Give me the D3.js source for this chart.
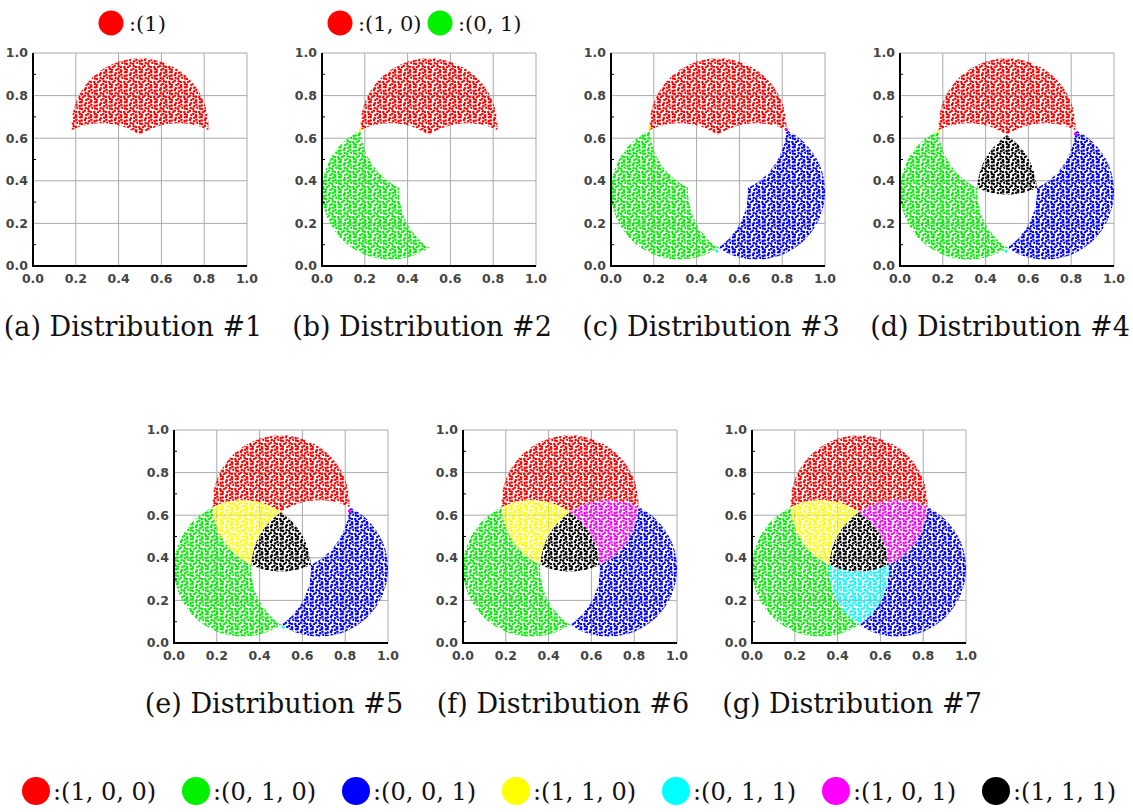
<!DOCTYPE html>
<html lang="en">
<head>
<meta charset="UTF-8">
<title>Distributions #1 - #7</title>
<script src="https://cdn.jsdelivr.net/npm/d3@7"></script>
<style>
  body { margin: 0; background: #fff; }
  .tick-label { font-family: "DejaVu Sans", sans-serif; font-weight: bold; font-size: 12.5px; fill: #444; }
  .caption { font-family: "DejaVu Serif", serif; font-size: 27px; fill: #111; }
  .legend-text { font-family: "DejaVu Serif", serif; fill: #111; }
</style>
</head>
<body>
<svg id="chart" width="1133" height="812"></svg>
<script>
// the three circles whose overlaps make the label regions
const circleCx = [0.5, 0.32, 0.68];
const circleCy = [0.655, 0.35, 0.35];
const circleR = [0.32, 0.32, 0.32];

// labels (membership of circle 1, 2, 3) and their colours
const labelCodes = ["100", "010", "001", "110", "011", "101", "111"];
const labelTexts = [":(1, 0, 0)", ":(0, 1, 0)", ":(0, 0, 1)", ":(1, 1, 0)", ":(0, 1, 1)", ":(1, 0, 1)", ":(1, 1, 1)"];
const labelColors = ["#ff0000", "#00f000", "#0000ff", "#ffff00", "#00ffff", "#ff00ff", "#000000"];

// which labels are present in each distribution
const panelLabels = [
  ["100"],
  ["100", "010"],
  ["100", "010", "001"],
  ["100", "010", "001", "111"],
  ["100", "010", "001", "111", "110"],
  ["100", "010", "001", "111", "110", "101"],
  ["100", "010", "001", "111", "110", "101", "011"]
];
const captions = ["(a) Distribution #1", "(b) Distribution #2", "(c) Distribution #3", "(d) Distribution #4",
                  "(e) Distribution #5", "(f) Distribution #6", "(g) Distribution #7"];

// small legends above panels (a) and (b)
const legendA = [["100", ":(1)"]];
const legendB = [["100", ":(1, 0)"], ["010", ":(0, 1)"]];

// stray points at the region corners
const strayPanel = [1, 2, 2, 2, 3, 3, 3, 4, 4];
const strayCode  = ["110", "110", "101", "011", "110", "101", "011", "101", "011"];
const strayX     = [0.18, 0.18, 0.82, 0.495, 0.18, 0.82, 0.495, 0.82, 0.51];
const strayY     = [0.64, 0.65, 0.64, 0.07, 0.63, 0.62, 0.07, 0.62, 0.075];

const ticks = [0, 0.2, 0.4, 0.6, 0.8, 1.0];
const minorTicks = [0.1, 0.3, 0.5, 0.7, 0.9];

// layout
const panelX = [33, 322, 611, 900, 174, 463, 752];
const panelY = [53, 53, 53, 53, 430, 430, 430];
const W = 214, H = 213;

const svg = d3.select("#chart");
const defs = svg.append("defs");
const x = d3.scaleLinear().domain([0, 1]).range([0, W]);
const y = d3.scaleLinear().domain([0, 1]).range([H, 0]);
const colorOf = d3.scaleOrdinal().domain(labelCodes).range(labelColors);

// stipple texture so the regions read like dense scatter (5x5 cells, hand jittered)
const tile = 15;
const jitter = [[0.4,-0.6],[-0.7,0.3],[0.8,0.5],[-0.2,-0.8],[-0.5,0.7],
                [0.6,-0.3],[-0.8,-0.5],[0.3,0.8],[0.7,0.2],[-0.3,-0.7],
                [0.1,0.6],[-0.8,-0.1],[-0.5,-0.4],[0.7,0.8],[-0.1,-0.8],
                [0.5,0.1],[-0.6,0.6],[0.2,-0.5],[-0.4,0.2],[0.8,-0.7],
                [-0.2,0.4],[0.6,0.7],[-0.7,-0.8],[0.3,-0.2],[-0.5,0.5]];
labelCodes.forEach(code => {
  const p = defs.append("pattern").attr("id", "pat-" + code)
    .attr("patternUnits", "userSpaceOnUse").attr("width", tile).attr("height", tile);
  jitter.forEach((j, k) => {
    p.append("circle")
      .attr("cx", 1.5 + 3 * (k % 5) + j[0])
      .attr("cy", 1.5 + 3 * Math.floor(k / 5) + j[1])
      .attr("r", 1.25)
      .attr("fill", colorOf(code));
  });
});

// clip paths for each circle, masks to cut out the others
circleCx.forEach((cx, i) => {
  defs.append("clipPath").attr("id", "clip-" + i)
    .append("ellipse")
    .attr("cx", x(cx)).attr("cy", y(circleCy[i]))
    .attr("rx", x(circleR[i]) - x(0)).attr("ry", y(0) - y(circleR[i]));
});
const masks = {};
function maskFor(excl) {
  if (!excl.length) return null;
  const id = "mask-" + excl.join("");
  if (!masks[id]) {
    const m = defs.append("mask").attr("id", id)
      .attr("maskUnits", "userSpaceOnUse").attr("x", -10).attr("y", -10)
      .attr("width", W + 20).attr("height", H + 20);
    m.append("rect").attr("x", -10).attr("y", -10).attr("width", W + 20).attr("height", H + 20).attr("fill", "#fff");
    excl.forEach(i => {
      m.append("ellipse")
        .attr("cx", x(circleCx[i])).attr("cy", y(circleCy[i]))
        .attr("rx", x(circleR[i]) - x(0)).attr("ry", y(0) - y(circleR[i]))
        .attr("fill", "#000");
    });
    masks[id] = true;
  }
  return "url(#" + id + ")";
}

function drawRegion(g, code) {
  let host = g;
  const excl = [];
  code.split("").forEach((bit, i) => {
    if (bit === "1") host = host.append("g").attr("clip-path", "url(#clip-" + i + ")");
    else excl.push(i);
  });
  host.append("rect")
    .attr("x", 0).attr("y", 0).attr("width", W).attr("height", H)
    .attr("fill", "url(#pat-" + code + ")")
    .attr("mask", maskFor(excl));
}

panelLabels.forEach((labels, p) => {
  const g = svg.append("g").attr("transform", `translate(${panelX[p]},${panelY[p]})`);

  // grid
  g.selectAll(".gx").data(ticks.slice(1)).join("line")
    .attr("x1", d => x(d)).attr("x2", d => x(d)).attr("y1", 0).attr("y2", H)
    .attr("stroke", "#aaa").attr("stroke-width", 1);
  g.selectAll(".gy").data(ticks.slice(1)).join("line")
    .attr("y1", d => y(d)).attr("y2", d => y(d)).attr("x1", 0).attr("x2", W)
    .attr("stroke", "#aaa").attr("stroke-width", 1);

  labels.forEach(code => drawRegion(g, code));

  // stray corner points
  strayPanel.forEach((sp, k) => {
    if (sp !== p) return;
    g.append("circle").attr("cx", x(strayX[k])).attr("cy", y(strayY[k])).attr("r", 1.6)
      .attr("fill", colorOf(strayCode[k]));
  });

  // axes
  g.append("line").attr("x1", 0).attr("x2", 0).attr("y1", 0).attr("y2", H + 1)
    .attr("stroke", "#000").attr("stroke-width", 2);
  g.append("line").attr("x1", -1).attr("x2", W).attr("y1", H).attr("y2", H)
    .attr("stroke", "#000").attr("stroke-width", 2);
  g.selectAll(".mt").data(minorTicks).join("line")
    .attr("x1", 0).attr("x2", 3).attr("y1", d => y(d)).attr("y2", d => y(d))
    .attr("stroke", "#000").attr("stroke-width", 1);

  g.selectAll(".yl").data(ticks).join("text")
    .attr("class", "tick-label")
    .attr("x", -5).attr("y", d => y(d)).attr("dy", "0.35em")
    .attr("text-anchor", "end")
    .text(d => d.toFixed(1));
  g.selectAll(".xl").data(ticks).join("text")
    .attr("class", "tick-label")
    .attr("x", d => x(d)).attr("y", H + 13).attr("dy", "0.35em")
    .attr("text-anchor", "middle")
    .text(d => d.toFixed(1));

  g.append("text").attr("class", "caption")
    .attr("x", W / 2 - 7).attr("y", H + 70)
    .attr("text-anchor", "middle")
    .text(captions[p]);
});

// top legends
function smallLegend(items, xs) {
  items.forEach((it, k) => {
    svg.append("circle").attr("cx", xs[k]).attr("cy", 23).attr("r", 12.5).attr("fill", colorOf(it[0]));
    svg.append("text").attr("class", "legend-text").attr("font-size", 21)
      .attr("x", xs[k] + 18).attr("y", 31).text(it[1]);
  });
}
smallLegend(legendA, [111]);
smallLegend(legendB, [340, 440]);

// bottom legend
labelCodes.forEach((code, k) => {
  const cx = 36 + k * 160;
  svg.append("circle").attr("cx", cx).attr("cy", 791).attr("r", 14).attr("fill", colorOf(code));
  svg.append("text").attr("class", "legend-text").attr("font-size", 24)
    .attr("x", cx + 17).attr("y", 800).text(labelTexts[k]);
});
</script>
</body>
</html>
